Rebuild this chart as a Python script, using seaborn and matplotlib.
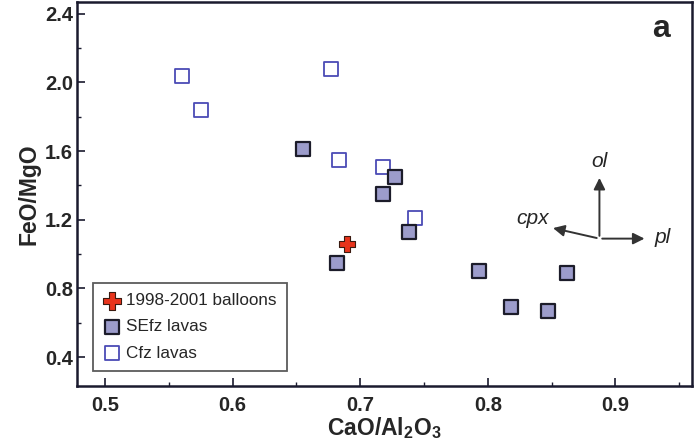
import matplotlib
matplotlib.use("Agg")
import matplotlib.pyplot as plt
from matplotlib.ticker import MultipleLocator
import seaborn as sns
import pandas as pd

# CaO/Al2O3 vs FeO/MgO
balloon_x = [0.690]
balloon_y = [1.06]

sefz_x = [0.655, 0.727, 0.718, 0.738, 0.682, 0.793, 0.862, 0.818, 0.847]
sefz_y = [1.61, 1.45, 1.35, 1.13, 0.95, 0.90, 0.89, 0.69, 0.67]

cfz_x = [0.560, 0.575, 0.677, 0.683, 0.718, 0.743]
cfz_y = [2.04, 1.84, 2.08, 1.55, 1.51, 1.21]

x_ticks = [0.5, 0.6, 0.7, 0.8, 0.9]
y_ticks = [0.4, 0.8, 1.2, 1.6, 2.0, 2.4]

sns.set_theme(style="white")
plt.rcParams["font.family"] = ["Liberation Sans", "DejaVu Sans"]
plt.rcParams["mathtext.fontset"] = "custom"
plt.rcParams["mathtext.rm"] = "Liberation Sans"
plt.rcParams["mathtext.bf"] = "Liberation Sans:bold"

fig = plt.figure(figsize=(6.94, 4.47), dpi=100)
ax = fig.add_axes([0.111, 0.136, 0.886, 0.860])

df_b = pd.DataFrame({"x": balloon_x, "y": balloon_y})
df_s = pd.DataFrame({"x": sefz_x, "y": sefz_y})
df_c = pd.DataFrame({"x": cfz_x, "y": cfz_y})

sns.scatterplot(data=df_c, x="x", y="y", ax=ax, marker="s", s=95,
                facecolor="white", edgecolor="#4b4bb5", linewidth=1.3,
                label="Cfz lavas", zorder=3)
sns.scatterplot(data=df_s, x="x", y="y", ax=ax, marker="s", s=95,
                color="#9c9ccb", edgecolor="#1c1c2a", linewidth=1.6,
                label="SEfz lavas", zorder=4)
sns.scatterplot(data=df_b, x="x", y="y", ax=ax, marker="P", s=125,
                color="#e8341c", edgecolor="#3a1a10", linewidth=0.8,
                label="1998-2001 balloons", zorder=5)

ax.set_xlim(0.478, 0.960)
ax.set_ylim(0.23, 2.47)
ax.set_xticks(x_ticks)
ax.set_yticks(y_ticks)
ax.xaxis.set_minor_locator(MultipleLocator(0.05))
ax.yaxis.set_minor_locator(MultipleLocator(0.2))
ax.set_xticklabels([f"{v:.1f}" for v in x_ticks], fontsize=14.5, fontweight="bold")
ax.set_yticklabels([f"{v:.1f}" for v in y_ticks], fontsize=14.5, fontweight="bold")
ax.tick_params(axis="x", which="major", pad=7)
ax.tick_params(axis="y", which="major", pad=3)
ax.tick_params(axis="both", which="major", direction="in", length=6, width=1.2,
               color="#1a1a2e", bottom=True, left=True)
ax.tick_params(axis="both", which="minor", direction="in", length=3, width=1.0,
               color="#1a1a2e", bottom=True, left=True)

for side in ["left", "bottom", "top", "right"]:
    ax.spines[side].set_color("#1a1a2e")
    ax.spines[side].set_linewidth(1.8)

ax.set_xlabel(r"CaO/Al$_\mathbf{2}$O$_\mathbf{3}$", fontsize=16.5, fontweight="bold", labelpad=0)
ax.set_ylabel("FeO/MgO", fontsize=16.5, fontweight="bold", labelpad=3)

# Mineral fractionation vectors
ox, oy = 0.8875, 1.09
arrow_kw = dict(arrowstyle="-|>", color="#333333", lw=1.4, mutation_scale=17)
ax.annotate("", xy=(ox, 1.46), xytext=(ox, oy), arrowprops=arrow_kw)
ax.annotate("", xy=(0.925, oy), xytext=(ox, oy), arrowprops=arrow_kw)
ax.annotate("", xy=(0.849, 1.155), xytext=(ox, oy), arrowprops=arrow_kw)
ax.text(ox, 1.54, "ol", fontsize=15, fontstyle="italic", ha="center", va="center")
ax.text(0.931, oy + 0.005, "pl", fontsize=15, fontstyle="italic", ha="left", va="center")
ax.text(0.848, 1.21, "cpx", fontsize=15, fontstyle="italic", ha="right", va="center")

ax.text(0.943, 2.31, "a", fontsize=23, fontweight="bold", ha="right", va="center")

handles, labels = ax.get_legend_handles_labels()
order = [2, 1, 0]
leg = ax.legend([handles[i] for i in order], [labels[i] for i in order],
                loc="lower left", bbox_to_anchor=(0.026, 0.04), fontsize=12.3,
                frameon=True, fancybox=False, edgecolor="#333333",
                handletextpad=0.35, borderpad=0.6, labelspacing=0.65,
                handlelength=1.0, borderaxespad=0, markerscale=1.1)
leg.get_frame().set_linewidth(1.3)

fig.savefig("out.png", dpi=100)
